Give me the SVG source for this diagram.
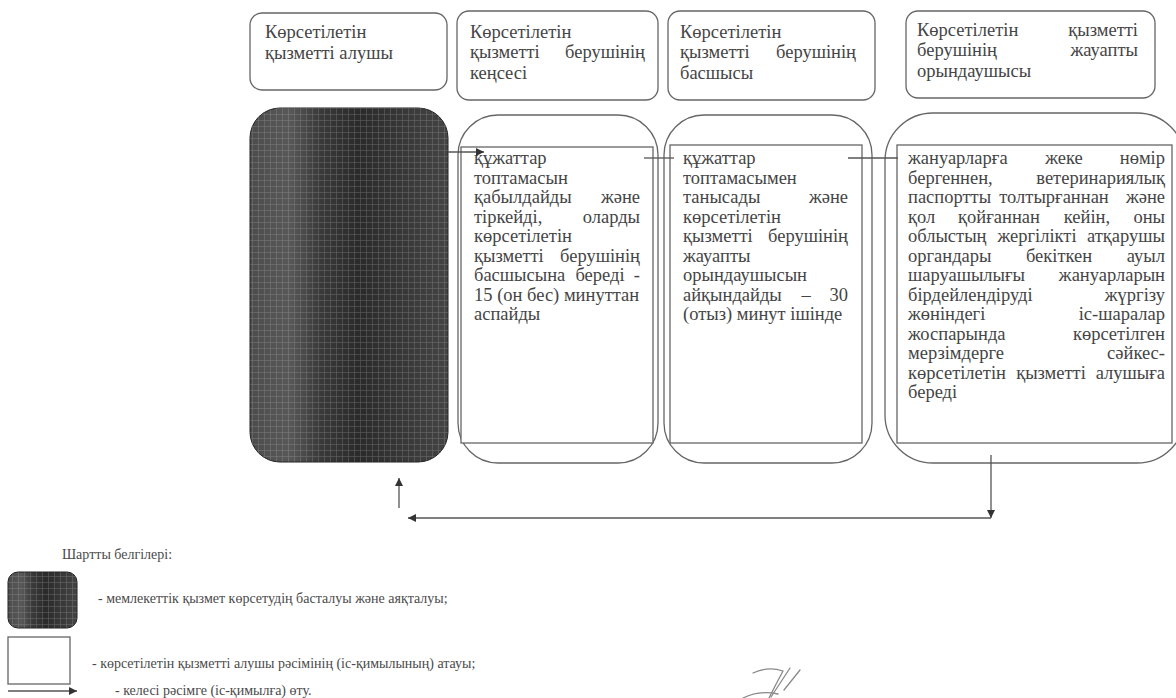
<svg xmlns="http://www.w3.org/2000/svg" width="1176" height="698" viewBox="0 0 1176 698">
<style>
.t{font-family:"Liberation Serif","Times New Roman",serif;font-size:18.5px;fill:#454545}
.e{text-anchor:end}
.m{text-anchor:middle}
.lg{font-family:"Liberation Serif","Times New Roman",serif;font-size:14px;fill:#4a4a4a}
.box{fill:#fff;stroke:#666;stroke-width:1.3}
.ln{fill:none;stroke:#555;stroke-width:1.3}
.sig{fill:none;stroke:#8a8a8a;stroke-width:1.3;stroke-linecap:round}
</style>
<defs>
<marker id="ah" viewBox="0 0 10 10" refX="10" refY="5" markerWidth="10" markerHeight="8" markerUnits="userSpaceOnUse" orient="auto">
<path d="M0,0 L10,5 L0,10 z" fill="#333"/>
</marker>
<linearGradient id="dark" x1="0" y1="0" x2="1" y2="0">
<stop offset="0" stop-color="#4c4c4c"/>
<stop offset="0.2" stop-color="#585858"/>
<stop offset="0.35" stop-color="#3a3a3a"/>
<stop offset="0.55" stop-color="#2a2a2a"/>
<stop offset="0.75" stop-color="#363636"/>
<stop offset="1" stop-color="#444"/>
</linearGradient>
<pattern id="tex" width="6" height="6" patternUnits="userSpaceOnUse">
<path d="M0,0.5 H6 M0.5,0 V6" stroke="#bbb" stroke-width="0.6" opacity="0.35"/>
</pattern>
</defs>
<rect width="1176" height="698" fill="#fff"/>

<g id="h1">
<rect class="box" x="250" y="13" width="197" height="77" rx="12"/>
<text class="t" x="265" y="38">Көрсетілетін</text>
<text class="t" x="265" y="59">қызметті алушы</text>
</g>
<g id="h2">
<rect class="box" x="457" y="11" width="201" height="89" rx="12"/>
<text class="t" x="470" y="38">Көрсетілетін</text>
<text class="t" x="470" y="58">қызметті</text><text class="t e" x="645" y="58">берушінің</text>
<text class="t" x="470" y="79">кеңсесі</text>
</g>
<g id="h3">
<rect class="box" x="668" y="11" width="207" height="89" rx="12"/>
<text class="t" x="680" y="38">Көрсетілетін</text>
<text class="t" x="680" y="58">қызметті</text><text class="t e" x="856" y="58">берушінің</text>
<text class="t" x="680" y="79">басшысы</text>
</g>
<g id="h4">
<rect class="box" x="906" y="11" width="249" height="87" rx="12"/>
<text class="t" x="917" y="36">Көрсетілетін</text><text class="t e" x="1138" y="36">қызметті</text>
<text class="t" x="917" y="56">берушінің</text><text class="t e" x="1138" y="56">жауапты</text>
<text class="t" x="917" y="77">орындаушысы</text>
</g>

<g id="start">
<rect x="250" y="108" width="198" height="354" rx="30" fill="url(#dark)" stroke="#222" stroke-width="1"/>
<rect x="250" y="108" width="198" height="354" rx="30" fill="url(#tex)"/>
</g>

<g id="s1">
<rect class="box" x="458" y="115" width="200" height="348" rx="40"/>
<rect class="box" x="461" y="147" width="192" height="296"/>
<text class="t" x="474" y="164">құжаттар</text>
<text class="t" x="474" y="183.5">топтамасын</text>
<text class="t" x="474" y="203">қабылдайды</text><text class="t e" x="640" y="203">және</text>
<text class="t" x="474" y="222.5">тіркейді,</text><text class="t e" x="640" y="222.5">оларды</text>
<text class="t" x="474" y="242">көрсетілетін</text>
<text class="t" x="474" y="261.5">қызметті</text><text class="t e" x="640" y="261.5">берушінің</text>
<text class="t" x="474" y="281">басшысына</text><text class="t m" x="600" y="281">береді</text><text class="t e" x="640" y="281">-</text>
<text class="t" x="474" y="300.5">15 (он бес) минуттан</text>
<text class="t" x="474" y="320">аспайды</text>
</g>

<g id="s2">
<rect class="box" x="664" y="115" width="208" height="348" rx="40"/>
<rect class="box" x="670" y="145" width="192" height="298"/>
<text class="t" x="683" y="164">құжаттар</text>
<text class="t" x="683" y="183.5">топтамасымен</text>
<text class="t" x="683" y="203">танысады</text><text class="t e" x="848" y="203">және</text>
<text class="t" x="683" y="222.5">көрсетілетін</text>
<text class="t" x="683" y="242">қызметті</text><text class="t e" x="848" y="242">берушінің</text>
<text class="t" x="683" y="261.5">жауапты</text>
<text class="t" x="683" y="281">орындаушысын</text>
<text class="t" x="683" y="300.5">айқындайды</text><text class="t m" x="806" y="300.5">–</text><text class="t e" x="848" y="300.5">30</text>
<text class="t" x="683" y="320">(отыз) минут ішінде</text>
</g>

<g id="s3">
<rect class="box" x="885" y="113" width="300" height="350" rx="48"/>
<rect class="box" x="897" y="145" width="275" height="298"/>
<text class="t" x="908" y="164">жануарларға</text><text class="t m" x="1064" y="164">жеке</text><text class="t e" x="1165" y="164">нөмір</text>
<text class="t" x="908" y="183.5">бергеннен,</text><text class="t e" x="1165" y="183.5">ветеринариялық</text>
<text class="t" x="908" y="203">паспортты</text><text class="t m" x="1054" y="203">толтырғаннан</text><text class="t e" x="1165" y="203">және</text>
<text class="t" x="908" y="222.5">қол</text><text class="t m" x="999" y="222.5">қойғаннан</text><text class="t m" x="1087" y="222.5">кейін,</text><text class="t e" x="1165" y="222.5">оны</text>
<text class="t" x="908" y="242">облыстың</text><text class="t m" x="1037" y="242">жергілікті</text><text class="t e" x="1165" y="242">атқарушы</text>
<text class="t" x="908" y="261.5">органдары</text><text class="t m" x="1059" y="261.5">бекіткен</text><text class="t e" x="1165" y="261.5">ауыл</text>
<text class="t" x="908" y="281">шаруашылығы</text><text class="t e" x="1165" y="281">жануарларын</text>
<text class="t" x="908" y="300.5">бірдейлендіруді</text><text class="t e" x="1165" y="300.5">жүргізу</text>
<text class="t" x="908" y="320">жөніндегі</text><text class="t e" x="1165" y="320">іс-шаралар</text>
<text class="t" x="908" y="339.5">жоспарында</text><text class="t e" x="1165" y="339.5">көрсетілген</text>
<text class="t" x="908" y="359">мерзімдерге</text><text class="t e" x="1165" y="359">сәйкес-</text>
<text class="t" x="908" y="378.5">көрсетілетін</text><text class="t m" x="1051" y="378.5">қызметті</text><text class="t e" x="1165" y="378.5">алушыға</text>
<text class="t" x="908" y="398">береді</text>
</g>

<g id="connectors">
<line class="ln" x1="448" y1="152" x2="484" y2="152" marker-end="url(#ah)"/>
<line class="ln" x1="644" y1="158" x2="674" y2="158"/>
<line class="ln" x1="848" y1="158" x2="898" y2="158"/>
<line class="ln" x1="991" y1="455" x2="991" y2="518" marker-end="url(#ah)"/>
<line class="ln" x1="991" y1="518" x2="408" y2="518" marker-end="url(#ah)"/>
<line class="ln" x1="399" y1="508" x2="399" y2="478" marker-end="url(#ah)"/>
</g>

<g id="legend">
<text class="lg" x="62" y="559">Шартты белгілері:</text>
<rect x="8" y="572" width="69" height="56" rx="10" fill="url(#dark)" stroke="#222" stroke-width="1"/>
<rect x="8" y="572" width="69" height="56" rx="10" fill="url(#tex)"/>
<text class="lg" x="98" y="603">- мемлекеттік қызмет көрсетудің басталуы және аяқталуы;</text>
<rect class="box" x="8" y="637" width="62" height="47"/>
<text class="lg" x="92" y="668">- көрсетілетін қызметті алушы рәсімінің (іс-қимылының) атауы;</text>
<line class="ln" x1="8" y1="691" x2="77" y2="691" marker-end="url(#ah)"/>
<text class="lg" x="115" y="695">- келесі рәсімге (іс-қимылға) өту.</text>
</g>

<g id="signature">
<path class="sig" d="M753,673 Q768,666 783,671 Q776,684 769,698"/>
<path class="sig" d="M790,668 L771,697"/>
<path class="sig" d="M800,670 L784,690"/>
<path class="sig" d="M743,698 Q760,690 778,694"/>
</g>
</svg>
